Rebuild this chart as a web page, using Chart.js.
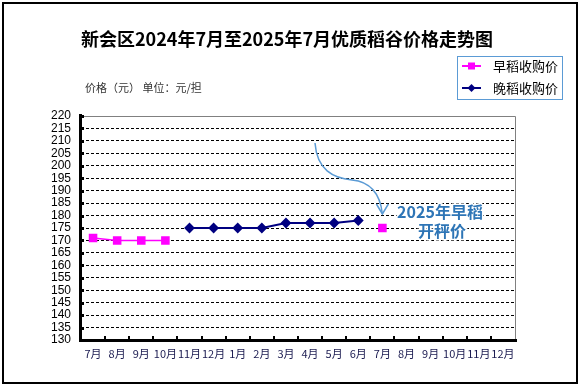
<!DOCTYPE html>
<html>
<head>
<meta charset="utf-8">
<script src="https://cdn.jsdelivr.net/npm/chart.js@4.4.1/dist/chart.umd.min.js"></script>
<style>
  html, body { margin: 0; padding: 0; background: #fff; }
  #wrap { position: relative; width: 581px; height: 387px; }
</style>
</head>
<body>
<div id="wrap"><canvas id="priceChart" width="581" height="387"></canvas></div>
<script>
// 月份（2024年7月 - 2025年12月）
const months = ['7月', '8月', '9月', '10月', '11月', '12月', '1月', '2月', '3月', '4月', '5月', '6月',
                '7月', '8月', '9月', '10月', '11月', '12月'];

// 早稻收购价（元/担）
const earlyRice = [171, 170, 170, 170, null, null, null, null, null, null, null, null,
                   175, null, null, null, null, null];

// 晚稻收购价（元/担）
const lateRice = [null, null, null, null, 175, 175, 175, 175, 177, 177, 177, 178,
                  null, null, null, null, null, null];

// Y轴刻度
const yMin = 130;
const yMax = 220;
const yStep = 5;

const titleText = '新会区2024年7月至2025年7月优质稻谷价格走势图';
const unitText = '价格（元） 单位：元/担';
const legendLabels = ['早稻收购价', '晚稻收购价'];
const noteLines = ['2025年早稻', '开秤价'];

const CJK = '"Noto Sans CJK SC", "Liberation Sans", sans-serif';

// 标题、图例、坐标轴和注释
const decor = {
    id: 'decor',
    beforeDraw(chart) {
        const ctx = chart.ctx;
        ctx.save();
        ctx.fillStyle = '#fff';
        ctx.fillRect(0, 0, chart.width, chart.height);
        ctx.restore();
    },
    afterDraw(chart) {
        const { ctx, chartArea: a, scales: { x, y } } = chart;
        ctx.save();

        // 绘图区上边和右边（灰色）
        ctx.strokeStyle = '#808080';
        ctx.lineWidth = 1;
        ctx.beginPath();
        ctx.moveTo(a.left, a.top + 0.5);
        ctx.lineTo(a.right + 0.5, a.top + 0.5);
        ctx.lineTo(a.right + 0.5, a.bottom);
        ctx.stroke();

        // 坐标轴（黑色粗线）
        ctx.fillStyle = '#000';
        ctx.fillRect(a.left - 2, a.top - 2, 3, a.bottom - a.top + 4);
        ctx.fillRect(a.left - 2, a.bottom - 1, a.right - a.left + 4, 3);

        // Y轴刻度点
        y.ticks.forEach(t => {
            const py = Math.round(y.getPixelForValue(t.value));
            ctx.fillRect(a.left, py - 1, 3, 3);
        });
        // X轴刻度线（类别分界）
        const w = (a.right - a.left) / months.length;
        for (let i = 1; i < months.length; i++) {
            const px = Math.round(a.left + i * w);
            ctx.fillRect(px - 1, a.bottom - 4, 2, 4);
        }

        // 标题
        ctx.fillStyle = '#000';
        ctx.textAlign = 'center';
        ctx.textBaseline = 'middle';
        ctx.font = 'bold 18px ' + CJK;
        ctx.fillText(titleText, 287, 39);

        // 单位
        ctx.textAlign = 'left';
        ctx.font = '11px ' + CJK;
        ctx.fillStyle = '#333';
        ctx.fillText(unitText, 85, 88);

        // 图例
        ctx.strokeStyle = '#5b9bd5';
        ctx.lineWidth = 1;
        ctx.strokeRect(457.5, 56.5, 105, 43);
        const rows = [
            { y: 66, color: '#ff00ff', style: 'rect' },
            { y: 88, color: '#000080', style: 'diamond' }
        ];
        rows.forEach((r, i) => {
            ctx.strokeStyle = r.color;
            ctx.fillStyle = r.color;
            ctx.lineWidth = 2;
            ctx.beginPath();
            ctx.moveTo(462, r.y);
            ctx.lineTo(481, r.y);
            ctx.stroke();
            if (r.style === 'rect') {
                ctx.fillRect(468, r.y - 3.5, 7, 7);
            } else {
                ctx.beginPath();
                ctx.moveTo(471.5, r.y - 4);
                ctx.lineTo(475.5, r.y);
                ctx.lineTo(471.5, r.y + 4);
                ctx.lineTo(467.5, r.y);
                ctx.closePath();
                ctx.fill();
            }
            ctx.fillStyle = '#000';
            ctx.font = '13px ' + CJK;
            ctx.fillText(legendLabels[i], 493, r.y);
        });

        // 注释箭头
        const tipX = x.getPixelForValue(12);
        const tipY = y.getPixelForValue(175) - 14;
        ctx.strokeStyle = '#5b9bd5';
        ctx.lineWidth = 1.5;
        ctx.beginPath();
        ctx.moveTo(315, 143);
        ctx.bezierCurveTo(317, 170, 333, 178, 352, 180);
        ctx.bezierCurveTo(373, 182, tipX - 2, 196, tipX, tipY);
        ctx.stroke();
        ctx.beginPath();
        ctx.moveTo(tipX - 6, tipY - 10);
        ctx.lineTo(tipX, tipY);
        ctx.lineTo(tipX + 6, tipY - 10);
        ctx.stroke();

        // 注释文字
        ctx.textAlign = 'center';
        ctx.font = 'bold 16px ' + CJK;
        ctx.lineWidth = 3;
        ctx.strokeStyle = '#fff';
        ctx.fillStyle = '#2e75b6';
        [[440, 212], [442, 231]].forEach((p, i) => {
            ctx.strokeText(noteLines[i], p[0], p[1]);
            ctx.fillText(noteLines[i], p[0], p[1]);
        });

        // 外框
        ctx.strokeStyle = '#000';
        ctx.lineWidth = 2;
        ctx.strokeRect(3, 3, 574, 380);

        ctx.restore();
    }
};

const ctx = document.getElementById('priceChart').getContext('2d');

const priceChart = new Chart(ctx, {
    type: 'line',
    data: {
        labels: months,
        datasets: [
            {
                label: legendLabels[0],
                data: earlyRice,
                borderColor: '#ff00ff',
                backgroundColor: '#ff00ff',
                borderWidth: 1.5,
                pointStyle: 'rect',
                pointRadius: 5,
                pointHoverRadius: 5,
                spanGaps: false
            },
            {
                label: legendLabels[1],
                data: lateRice,
                borderColor: '#000080',
                backgroundColor: '#000080',
                borderWidth: 2,
                pointStyle: 'rectRot',
                pointRadius: 4,
                pointHoverRadius: 4,
                spanGaps: false
            }
        ]
    },
    options: {
        responsive: false,
        animation: false,
        layout: {
            padding: { top: 116, right: 66, bottom: 3, left: 0 }
        },
        plugins: {
            legend: { display: false },
            title: { display: false },
            tooltip: { enabled: false }
        },
        scales: {
            x: {
                type: 'category',
                offset: true,
                afterFit(scale) { scale.height = 44; },
                grid: { display: false, drawTicks: false },
                border: { display: false },
                ticks: {
                    autoSkip: false,
                    maxRotation: 0,
                    padding: 7,
                    color: '#1a1a50',
                    font: { size: 11, family: CJK }
                }
            },
            y: {
                min: yMin,
                max: yMax,
                afterFit(scale) { scale.width = 81; },
                grid: {
                    drawTicks: false,
                    lineWidth: 1,
                    color: c => (c.tick && (c.tick.value === yMin || c.tick.value === yMax)) ? 'rgba(0,0,0,0)' : '#000'
                },
                border: { display: false, dash: [3, 2] },
                ticks: {
                    stepSize: yStep,
                    autoSkip: false,
                    padding: 10,
                    color: '#000',
                    font: { size: 12, family: '"Liberation Sans", sans-serif' }
                }
            }
        }
    },
    plugins: [decor]
});
</script>
</body>
</html>
